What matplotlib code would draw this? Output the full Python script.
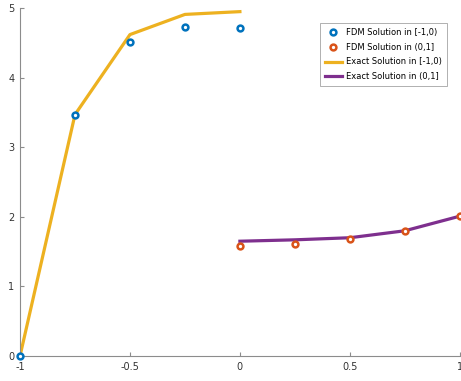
import numpy as np
import matplotlib
matplotlib.use("Agg")
import matplotlib.pyplot as plt

# values
x_left = [-1.0, -0.75, -0.5, -0.25, 0.0]
fdm_left = [0.0, 3.47, 4.52, 4.73, 4.72]
exact_left = [0.0, 3.47, 4.62, 4.91, 4.95]

x_right = [0.0, 0.25, 0.5, 0.75, 1.0]
fdm_right = [1.58, 1.61, 1.68, 1.80, 2.01]
exact_right = [1.65, 1.67, 1.70, 1.80, 2.01]

_BLUE = "#0072BD"
_ORANGE = "#D95319"
_YELLOW = "#EDB120"
_PURPLE = "#7E2F8E"
_AXIS = "#8C8C8C"
_TEXT = "#333333"

fig = plt.figure(figsize=(4.61, 3.81), dpi=100)
ax = fig.add_axes([0.0434, 0.0656, 0.954, 0.913])

ax.plot(x_left, exact_left, color=_YELLOW, lw=2.3, label="Exact Solution in [-1,0)", zorder=2)
ax.plot(x_right, exact_right, color=_PURPLE, lw=2.3, label="Exact Solution in (0,1]", zorder=2)
ax.plot(x_left, fdm_left, ls="none", marker="o", ms=4.2, mfc="white", mec=_BLUE, mew=1.8,
        label="FDM Solution in [-1,0)", zorder=3, clip_on=False)
ax.plot(x_right, fdm_right, ls="none", marker="o", ms=4.2, mfc="white", mec=_ORANGE, mew=1.8,
        label="FDM Solution in (0,1]", zorder=3, clip_on=False)

ax.set_xlim(-1, 1)
ax.set_ylim(0, 5)
ax.set_xticks([-1, -0.5, 0, 0.5, 1])
ax.set_xticklabels(["-1", "-0.5", "0", "0.5", "1"])
ax.set_yticks([0, 1, 2, 3, 4, 5])

for s in ["top", "right"]:
    ax.spines[s].set_visible(False)
for s in ["left", "bottom"]:
    ax.spines[s].set_color(_AXIS)
    ax.spines[s].set_linewidth(0.8)
ax.tick_params(direction="in", length=3, colors=_AXIS, labelcolor=_TEXT, labelsize=7, pad=4)

h, l = ax.get_legend_handles_labels()
order = [2, 3, 0, 1]
leg = ax.legend([h[i] for i in order], [l[i] for i in order], loc="upper right",
                bbox_to_anchor=(0.98, 0.97), fontsize=6, frameon=True, fancybox=False,
                edgecolor=_AXIS, handlelength=2.0, handletextpad=0.5, borderpad=0.6,
                labelspacing=0.7)
leg.get_frame().set_linewidth(0.6)

fig.savefig("out.png", dpi=100)
